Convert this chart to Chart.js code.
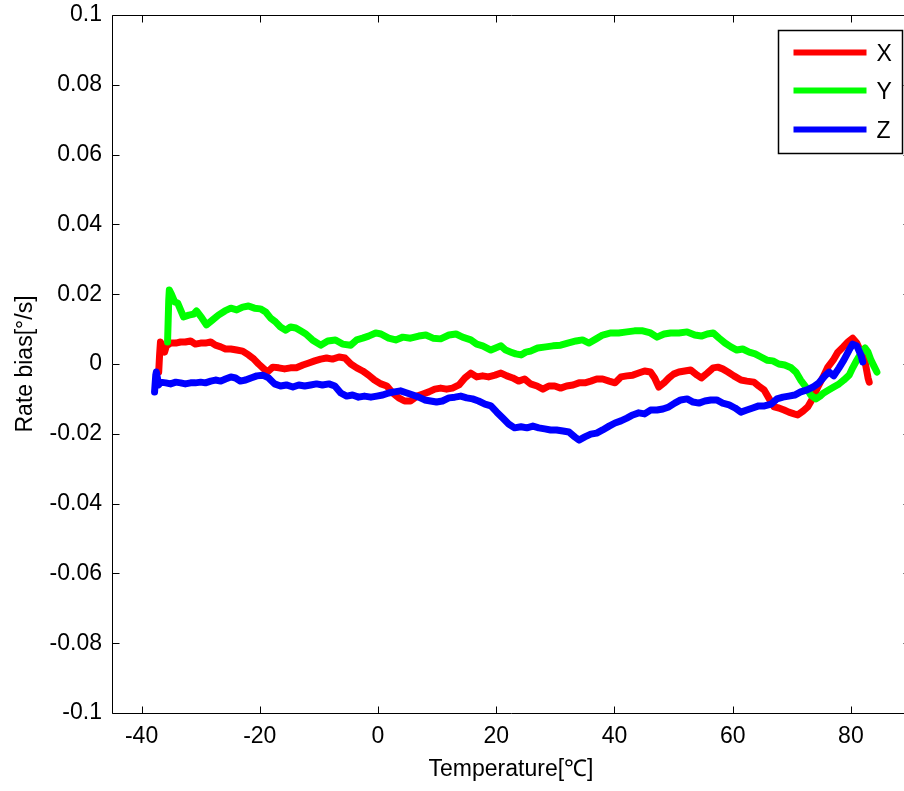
<!DOCTYPE html>
<html>
<head>
<meta charset="utf-8">
<script src="https://cdn.jsdelivr.net/npm/chart.js@4.4.1/dist/chart.umd.min.js"></script>
<style>
  html, body { margin:0; padding:0; background:#fff; overflow:hidden; width:904px; height:791px; }
  canvas { display:block; }
</style>
</head>
<body>
<canvas id="c" width="912" height="791" style="width:912px;height:791px"></canvas>
<script>
// ---- data ----
const seriesNames = ['X', 'Y', 'Z'];
const seriesColors = ['#ff0000', '#00ff00', '#0000ff'];

const xTemp = [-37.1,-36.95,-36.8,-36.4,-36.1,-35.8,-35.1,-34.2,-33.4,-32.6,
  -31.7,-30.9,-30.0,-29.2,-28.3,-27.5,-26.6,-25.8,-24.9,-23.9,
  -22.9,-21.9,-21.0,-20.2,-19.3,-18.7,-17.8,-16.8,-15.8,-14.8,
  -13.8,-12.7,-11.7,-10.7,-9.7,-8.7,-7.7,-6.6,-5.6,-4.6,
  -3.6,-2.6,-1.6,-0.6,0.5,1.5,2.5,3.5,4.5,5.5,
  6.6,7.6,8.6,9.6,10.6,11.6,12.6,13.7,14.7,15.7,
  16.7,17.7,18.7,19.8,20.8,21.8,22.8,23.8,24.8,25.8,
  26.9,27.9,28.9,29.9,30.9,31.9,33.0,34.0,35.0,36.0,
  37.0,38.0,39.1,40.1,41.1,42.1,43.1,44.1,45.1,46.1,
  46.8,47.5,48.4,49.2,50.0,50.9,51.9,52.9,54.0,54.7,
  55.7,56.7,57.5,58.3,59.2,60.2,61.4,62.4,63.6,64.4,
  65.3,66.1,67.0,67.8,68.7,69.5,70.4,71.0,71.9,72.7,
  73.6,74.4,75.3,76.1,77.0,77.8,78.7,79.5,80.3,81.0,
  81.7,82.4,82.9,83.1];
const xRate = [-0.0023,0.0026,0.0063,0.0046,0.0034,0.0052,0.0060,0.0060,0.0063,0.0063,
  0.0066,0.0057,0.0060,0.0060,0.0063,0.0054,0.0049,0.0043,0.0043,0.0040,
  0.0037,0.0026,0.0014,0,-0.0014,-0.0023,-0.0009,-0.0011,-0.0014,-0.0011,
  -0.0011,-0.0003,0.0003,0.0009,0.0014,0.0017,0.0014,0.0020,0.0017,0,
  -0.0011,-0.0020,-0.0032,-0.0046,-0.0057,-0.0063,-0.0083,-0.0097,-0.0106,-0.0106,
  -0.0092,-0.0086,-0.0080,-0.0072,-0.0069,-0.0072,-0.0069,-0.0060,-0.0040,-0.0026,
  -0.0037,-0.0034,-0.0037,-0.0032,-0.0026,-0.0034,-0.0040,-0.0049,-0.0043,-0.0057,
  -0.0063,-0.0072,-0.0063,-0.0063,-0.0069,-0.0063,-0.0060,-0.0054,-0.0054,-0.0049,
  -0.0043,-0.0043,-0.0049,-0.0054,-0.0037,-0.0034,-0.0032,-0.0026,-0.0020,-0.0023,
  -0.0040,-0.0066,-0.0054,-0.0040,-0.0029,-0.0023,-0.0020,-0.0017,-0.0032,-0.0040,
  -0.0026,-0.0011,-0.0009,-0.0014,-0.0023,-0.0034,-0.0046,-0.0049,-0.0052,-0.0063,
  -0.0074,-0.0097,-0.0123,-0.0126,-0.0132,-0.0138,-0.0143,-0.0146,-0.0135,-0.0123,
  -0.0097,-0.0066,-0.0037,-0.0009,0.0011,0.0034,0.0049,0.0063,0.0074,0.0060,
  0.0034,0.0006,-0.0040,-0.0052];

const yTemp = [-35.6,-35.4,-35.3,-34.9,-34.4,-33.9,-33.4,-32.9,-32.0,-31.2,
  -30.7,-29.8,-29.0,-28.0,-27.0,-25.9,-24.9,-23.9,-22.9,-21.9,
  -20.9,-19.9,-19.0,-18.2,-17.3,-16.5,-15.6,-14.8,-13.9,-13.1,
  -12.2,-11.1,-9.7,-8.5,-7.2,-6.0,-4.6,-3.6,-2.6,-1.6,
  -0.4,0.5,1.8,3.0,4.2,5.5,6.9,8.1,9.3,10.6,
  12.0,13.2,14.3,15.7,16.7,17.7,19.1,19.9,20.8,21.6,
  22.5,23.3,24.2,25.0,25.8,27.0,28.4,29.6,30.9,32.1,
  33.5,34.6,35.7,36.9,38.0,39.4,40.7,42.1,43.4,44.8,
  46.1,47.2,48.4,49.5,50.9,52.3,53.6,54.7,55.7,56.7,
  57.7,58.7,59.7,60.7,61.7,62.8,63.8,64.8,65.8,66.8,
  67.8,68.8,69.9,70.7,71.5,72.4,73.2,74.1,74.8,75.4,
  76.3,77.1,78.0,78.8,79.7,80.3,81.0,81.7,82.4,82.9,
  83.4,83.9,84.4];
const yRate = [0.0063,0.0183,0.0212,0.0198,0.0178,0.0175,0.0155,0.0135,0.0140,0.0143,
  0.0152,0.0132,0.0112,0.0126,0.0140,0.0152,0.0160,0.0155,0.0163,0.0166,
  0.0160,0.0158,0.0149,0.0132,0.0120,0.0106,0.0097,0.0106,0.0103,0.0095,
  0.0086,0.0069,0.0054,0.0066,0.0069,0.0057,0.0054,0.0069,0.0074,0.0080,
  0.0089,0.0086,0.0074,0.0069,0.0077,0.0074,0.0080,0.0083,0.0074,0.0072,
  0.0083,0.0086,0.0077,0.0069,0.0057,0.0052,0.0040,0.0046,0.0052,0.0040,
  0.0034,0.0029,0.0026,0.0034,0.0037,0.0046,0.0049,0.0052,0.0054,0.0060,
  0.0066,0.0069,0.0060,0.0072,0.0083,0.0089,0.0089,0.0092,0.0095,0.0095,
  0.0089,0.0077,0.0086,0.0089,0.0089,0.0092,0.0083,0.0080,0.0086,0.0089,
  0.0074,0.0060,0.0049,0.0040,0.0043,0.0034,0.0029,0.0020,0.0011,0.0009,
  0,-0.0003,-0.0011,-0.0023,-0.0046,-0.0066,-0.0089,-0.0100,-0.0092,-0.0083,
  -0.0074,-0.0066,-0.0057,-0.0046,-0.0032,-0.0011,0.0011,0.0031,0.0046,0.0034,
  0.0011,-0.0006,-0.0023];

const zTemp = [-37.8,-37.6,-37.5,-37.1,-36.8,-35.9,-35.1,-34.2,-33.4,-32.6,
  -31.7,-30.9,-30.0,-29.2,-28.3,-27.5,-26.6,-25.8,-24.9,-24.1,
  -23.3,-22.4,-21.5,-20.5,-19.5,-18.5,-17.5,-16.5,-15.5,-14.4,
  -13.4,-12.4,-11.4,-10.4,-9.4,-8.3,-7.3,-6.3,-5.3,-4.3,
  -3.3,-2.3,-1.2,-0.2,0.8,1.8,2.8,3.8,4.9,5.9,
  6.9,7.9,8.9,9.9,10.9,12.0,13.0,14.0,15.0,16.0,
  17.0,18.1,19.1,20.1,21.1,22.1,23.1,24.2,25.2,26.2,
  27.2,28.2,29.2,30.2,31.3,32.3,33.3,34.0,35.0,36.0,
  37.0,38.0,39.1,40.1,41.1,42.1,43.1,44.1,45.1,46.1,
  47.2,48.2,49.2,50.2,51.2,52.3,53.3,54.3,55.3,56.3,
  57.3,58.3,59.4,60.4,61.4,62.4,63.4,64.4,65.4,66.5,
  67.5,68.5,69.5,70.5,71.5,72.6,73.6,74.6,75.6,76.3,
  77.1,78.0,78.8,79.7,80.3,81.0,81.7,82.0];
const zRate = [-0.0080,-0.0032,-0.0023,-0.0060,-0.0052,-0.0054,-0.0057,-0.0052,-0.0054,-0.0057,
  -0.0054,-0.0054,-0.0052,-0.0054,-0.0049,-0.0046,-0.0049,-0.0043,-0.0037,-0.0040,
  -0.0049,-0.0046,-0.0040,-0.0034,-0.0032,-0.0040,-0.0057,-0.0063,-0.0060,-0.0066,
  -0.0060,-0.0063,-0.0060,-0.0057,-0.0060,-0.0057,-0.0063,-0.0083,-0.0092,-0.0089,
  -0.0095,-0.0092,-0.0095,-0.0092,-0.0089,-0.0083,-0.0080,-0.0077,-0.0083,-0.0089,
  -0.0095,-0.0103,-0.0106,-0.0109,-0.0106,-0.0097,-0.0095,-0.0092,-0.0097,-0.0100,
  -0.0106,-0.0115,-0.0120,-0.0138,-0.0155,-0.0172,-0.0183,-0.0180,-0.0183,-0.0178,
  -0.0183,-0.0186,-0.0189,-0.0189,-0.0192,-0.0195,-0.0209,-0.0218,-0.0209,-0.0201,
  -0.0198,-0.0189,-0.0178,-0.0169,-0.0163,-0.0155,-0.0146,-0.0140,-0.0143,-0.0132,
  -0.0132,-0.0129,-0.0123,-0.0112,-0.0103,-0.0100,-0.0109,-0.0112,-0.0106,-0.0103,
  -0.0103,-0.0112,-0.0117,-0.0126,-0.0138,-0.0132,-0.0126,-0.0120,-0.0120,-0.0115,
  -0.0100,-0.0095,-0.0092,-0.0089,-0.0080,-0.0074,-0.0066,-0.0054,-0.0034,-0.0023,
  -0.0034,-0.0011,0.0011,0.0040,0.0057,0.0052,0.0026,0.0006];

const xTicks = [-40, -20, 0, 20, 40, 60, 80];
const yTicks = [-0.1, -0.08, -0.06, -0.04, -0.02, 0, 0.02, 0.04, 0.06, 0.08, 0.1];
const xLabel = 'Temperature[℃]';
const yLabel = 'Rate bias[°/s]';

// ---- build ----
function pts(t, v) {
  const n = Math.min(t.length, v.length);
  const out = [];
  for (let i = 0; i < n; i++) out.push({ x: t[i], y: v[i] });
  return out;
}
const temps = [xTemp, yTemp, zTemp];
const rates = [xRate, yRate, zRate];

const FONT = '"Liberation Sans", Arial, Helvetica, sans-serif';
Chart.defaults.font.family = FONT;
Chart.defaults.font.size = 23;
Chart.defaults.color = '#000';

function fmt(v) { return String(Number(v.toFixed(2))); }

const framePlugin = {
  id: 'frame',
  afterDraw(chart) {
    const { ctx, chartArea: a, scales } = chart;
    const xs = scales.x, ys = scales.y;
    ctx.save();
    ctx.strokeStyle = '#000';
    ctx.lineWidth = 1;
    const L = Math.round(a.left) + 0.5, R = Math.round(a.right) + 0.5;
    const T = Math.round(a.top) + 0.5, B = Math.round(a.bottom) + 0.5;
    ctx.beginPath();
    ctx.rect(L, T, R - L, B - T);
    ctx.stroke();
    const tl = 7;
    ctx.beginPath();
    xTicks.forEach(v => {
      const p = Math.round(xs.getPixelForValue(v)) + 0.5;
      ctx.moveTo(p, B); ctx.lineTo(p, B - tl);
      ctx.moveTo(p, T); ctx.lineTo(p, T + tl);
    });
    yTicks.forEach(v => {
      const p = Math.round(ys.getPixelForValue(v)) + 0.5;
      ctx.moveTo(L, p); ctx.lineTo(L + tl, p);
      ctx.moveTo(R, p); ctx.lineTo(R - tl, p);
    });
    ctx.stroke();

    // legend box (top-right inside axes)
    const bx = Math.round(a.right - 132) + 0.5, by = Math.round(a.top + 15) + 0.5;
    const bw = 124, bh = 123;
    ctx.fillStyle = '#fff';
    ctx.fillRect(bx, by, bw, bh);
    ctx.strokeStyle = '#000';
    ctx.lineWidth = 1.5;
    ctx.strokeRect(bx, by, bw, bh);
    const rows = [22, 60, 99];
    ctx.font = '23px ' + FONT;
    ctx.textBaseline = 'middle';
    ctx.textAlign = 'left';
    seriesNames.forEach((name, i) => {
      const yy = by + rows[i];
      ctx.strokeStyle = seriesColors[i];
      ctx.lineWidth = 6;
      ctx.lineCap = 'butt';
      ctx.beginPath();
      ctx.moveTo(bx + 15, yy);
      ctx.lineTo(bx + 88, yy);
      ctx.stroke();
      ctx.fillStyle = '#000';
      ctx.fillText(name, bx + 98, yy + 2);
    });
    ctx.restore();
  }
};

new Chart(document.getElementById('c'), {
  type: 'line',
  data: {
    datasets: seriesNames.map((name, i) => ({
      label: name,
      data: pts(temps[i], rates[i]),
      borderColor: seriesColors[i],
      backgroundColor: seriesColors[i],
      borderWidth: 7,
      borderJoinStyle: 'round',
      borderCapStyle: 'round',
      pointRadius: 0,
      tension: 0,
      fill: false,
      order: 3 - i
    }))
  },
  options: {
    responsive: false,
    animation: false,
    events: [],
    layout: { padding: { left: 0, right: 2, top: 15, bottom: 0 } },
    plugins: { legend: { display: false }, tooltip: { enabled: false } },
    scales: {
      x: {
        type: 'linear',
        min: -45, max: 90,
        afterBuildTicks: s => { s.ticks = xTicks.map(v => ({ value: v })); },
        afterFit: s => { s.height = 78; s.paddingLeft = 0; s.paddingRight = 0; },
        grid: { display: false, drawTicks: false },
        border: { display: false },
        ticks: { padding: 10, autoSkip: false, maxRotation: 0, callback: v => fmt(v) },
        title: { display: true, text: xLabel, padding: { top: 0, bottom: 8 } }
      },
      y: {
        type: 'linear',
        min: -0.1, max: 0.1,
        afterBuildTicks: s => { s.ticks = yTicks.map(v => ({ value: v })); },
        afterFit: s => { s.width = 112; s.paddingTop = 0; s.paddingBottom = 0; },
        grid: { display: false, drawTicks: false },
        border: { display: false },
        ticks: { padding: 10, autoSkip: false, callback: v => fmt(v) },
        title: { display: true, text: yLabel, padding: { top: 12, bottom: 0 } }
      }
    }
  },
  plugins: [framePlugin]
});
</script>
</body>
</html>
